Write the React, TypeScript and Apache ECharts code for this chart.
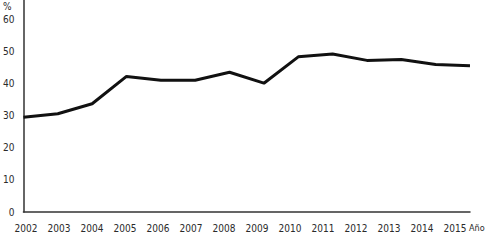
import React, { useEffect, useRef } from "react";
import * as echarts from "echarts";

const years = ["2002","2003","2004","2005","2006","2007","2008","2009","2010","2011","2012","2013","2014","2015"];
const values = [29.5, 30.6, 33.7, 42.2, 41.0, 41.0, 43.5, 40.1, 48.3, 49.2, 47.2, 47.5, 45.9, 45.5];
const yTicks = [0, 10, 20, 30, 40, 50, 60];

const FONT = "'DejaVu Sans Condensed', 'Liberation Sans Narrow', sans-serif";
const TEXT = "#2a2a2a";

export default function App() {
  const ref = useRef<HTMLDivElement>(null);
  useEffect(() => {
    if (!ref.current) return;
    const chart = echarts.init(ref.current, null, { renderer: "svg" });
    chart.setOption({
      animation: false,
      backgroundColor: "#ffffff",
      grid: [
        { left: 21, right: 17, top: 0, bottom: 31, containLabel: false },
        { left: 26, right: 32, top: 0, bottom: 31, containLabel: false },
      ],
      xAxis: [
        {
          type: "category",
          gridIndex: 0,
          data: years,
          boundaryGap: false,
          axisLine: { show: true, lineStyle: { color: "#333", width: 1.5 } },
          axisTick: { show: false },
          axisLabel: { show: false },
          splitLine: { show: false },
        },
        {
          type: "category",
          gridIndex: 1,
          data: years,
          boundaryGap: false,
          axisLine: { show: false },
          axisTick: { show: false },
          axisLabel: { show: true, margin: 11, fontSize: 10, color: TEXT, fontFamily: FONT, interval: 0 },
          splitLine: { show: false },
        },
      ],
      yAxis: [
        {
          type: "value",
          gridIndex: 0,
          min: 0,
          max: 66,
          interval: 10,
          axisLine: { show: true, lineStyle: { color: "#333", width: 1.5 } },
          axisTick: { show: false },
          splitLine: { show: false },
          axisLabel: {
            margin: 9,
            fontSize: 10,
            color: TEXT,
            fontFamily: FONT,
            formatter: (v: number) => (yTicks.includes(v) ? String(v) : ""),
          },
        },
        { type: "value", gridIndex: 1, show: false, min: 0, max: 66 },
      ],
      graphic: [
        { type: "text", left: 3, top: 1, style: { text: "%", fontSize: 10, fill: TEXT, fontFamily: FONT } },
        { type: "text", left: 469, top: 223, style: { text: "Año", fontSize: 9, fill: TEXT, fontFamily: FONT } },
      ],
      series: [
        {
          type: "line",
          xAxisIndex: 0,
          yAxisIndex: 0,
          data: values,
          symbol: "none",
          lineStyle: { color: "#111", width: 3 },
        },
      ],
    });
    return () => chart.dispose();
  }, []);
  return <div ref={ref} style={{ width: 487, height: 243, position: "absolute", left: 0, top: 0 }} />;
}
